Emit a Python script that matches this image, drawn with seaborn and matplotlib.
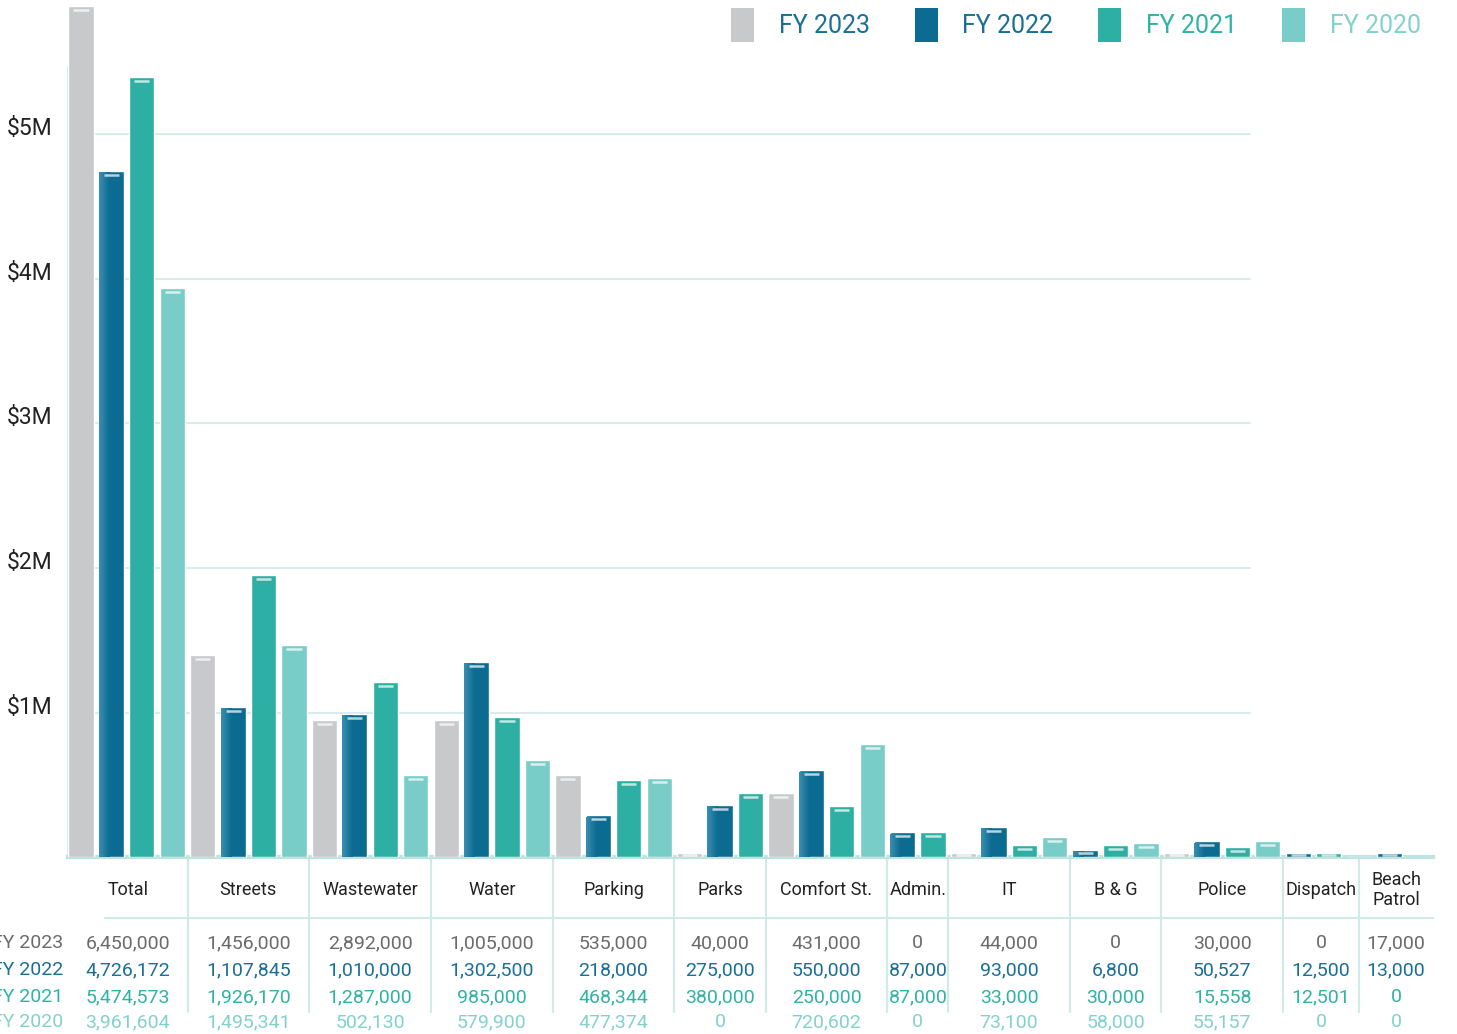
import numpy as np
import pandas as pd
import matplotlib.pyplot as plt
import matplotlib.transforms as mtransforms
from matplotlib.patches import Patch
from matplotlib.colors import LinearSegmentedColormap, to_rgb
import seaborn as sns

sns.set_style('white')
plt.rcParams['font.family'] = ['Roboto', 'DejaVu Sans']

categories = ['Total', 'Streets', 'Wastewater', 'Water', 'Parking', 'Parks', 'Comfort St.',
              'Admin.', 'IT', 'B & G', 'Police', 'Dispatch', 'Beach\nPatrol']
years = ['FY 2023', 'FY 2022', 'FY 2021', 'FY 2020']

# values printed in the table
fy2023 = [6450000, 1456000, 2892000, 1005000, 535000, 40000, 431000, 0, 44000, 0, 30000, 0, 17000]
fy2022 = [4726172, 1107845, 1010000, 1302500, 218000, 275000, 550000, 87000, 93000, 6800, 50527, 12500, 13000]
fy2021 = [5474573, 1926170, 1287000, 985000, 468344, 380000, 250000, 87000, 33000, 30000, 15558, 12501, 0]
fy2020 = [3961604, 1495341, 502130, 579900, 477374, 0, 720602, 0, 73100, 58000, 55157, 0, 0]

# bar heights as drawn in the chart ($M)
bar23 = [5.89, 1.40, 0.95, 0.95, 0.57, 0.03, 0.44, 0, 0.03, 0, 0.03, 0, 0]
bar22 = [4.75, 1.04, 0.99, 1.35, 0.29, 0.36, 0.60, 0.17, 0.21, 0.05, 0.11, 0.03, 0.03]
bar21 = [5.40, 1.95, 1.21, 0.97, 0.53, 0.44, 0.35, 0.17, 0.08, 0.08, 0.07, 0.03, 0]
bar20 = [3.94, 1.47, 0.57, 0.67, 0.55, 0, 0.78, 0, 0.14, 0.10, 0.11, 0, 0]

y_ticks = [1, 2, 3, 4, 5]
y_labels = ['$1M', '$2M', '$3M', '$4M', '$5M']

colors = ['#c8c9cb', '#0b6b91', '#2db0a3', '#78cdc8']
text_colors = ['#6b6b6b', '#1a6f95', '#2fb3a5', '#82d2cc']
legend_colors = ['#1a6f95', '#1a6f95', '#2fb3a5', '#82d2cc']
line_col = '#cfeae7'

table = [fy2023, fy2022, fy2021, fy2020]
bars = [bar23, bar22, bar21, bar20]

# one slot per non-zero table entry, bars packed one after the other
rows = []
slot = 0
for ci, cat in enumerate(categories):
    for yi, yr in enumerate(years):
        if table[yi][ci] != 0:
            rows.append({'slot': slot, 'year': yr, 'cat': ci, 'value': bars[yi][ci] * 1e6})
            slot += 1
df = pd.DataFrame(rows)

W, H = 1457, 1034
fig = plt.figure(figsize=(W / 100, H / 100), dpi=100)
ax = fig.add_axes([68 / W, 177 / H, 1365 / W, 857 / H])

sns.barplot(data=df, x='slot', y='value', hue='year', hue_order=years, palette=colors,
            dodge=False, native_scale=True, width=0.83, saturation=1, legend=False, ax=ax, zorder=3)

pitch = 30.43
xlim = (-13 / pitch, (1433 - 81) / pitch)
ytop = 857 / 144.5 * 1e6

# lighter left edge on the dark blue bars, small highlight on every bar
grad = LinearSegmentedColormap.from_list('g', ['#3a8fb0', colors[1]])
dpx = ytop / 857
for p in list(ax.patches):
    h = p.get_height()
    if h <= 0:
        continue
    x0 = p.get_x()
    w = p.get_width()
    if np.allclose(p.get_facecolor()[:3], to_rgb(colors[1]), atol=0.01) and h > 6 * dpx:
        ax.imshow(np.linspace(0, 1, 32).reshape(1, -1), cmap=grad, aspect='auto',
                  extent=[x0, x0 + w * 0.4, 0, h - 2 * dpx], zorder=3.5, interpolation='bicubic')
    yy = h - min(4 * dpx, h / 2)
    ax.plot([x0 + 0.2 * w, x0 + 0.8 * w], [yy, yy], color='white', alpha=0.7, lw=1.8,
            solid_capstyle='butt', zorder=4)

ax.set_xlim(*xlim)
ax.set_ylim(0, ytop)
ax.set_xlabel('')
ax.set_ylabel('')
ax.set_xticks([])

# grid + y labels
for t in y_ticks:
    ax.axhline(t * 1e6, xmin=0, xmax=0.866, color=line_col, lw=1.2, zorder=1)
ax.set_yticks([t * 1e6 for t in y_ticks], y_labels)
ax.tick_params(axis='y', length=0, pad=11, labelsize=16.5, labelcolor='#222222')
off = mtransforms.ScaledTranslation(0, 0.08, fig.dpi_scale_trans)
for lbl in ax.get_yticklabels():
    lbl.set_transform(lbl.get_transform() + off)

for s in ['top', 'right']:
    ax.spines[s].set_visible(False)
ax.spines['left'].set_color(line_col)
ax.spines['left'].set_linewidth(2)
ax.spines['left'].set_bounds(0, 5.47e6)
ax.spines['bottom'].set_color('#bfe3df')
ax.spines['bottom'].set_linewidth(3)

# legend
handles = [Patch(facecolor=c, edgecolor='none') for c in colors]
leg = fig.legend(handles, years, loc='upper left', bbox_to_anchor=(731 / W, 1 - 8 / H),
                 ncol=4, frameon=False, fontsize=18, handlelength=0.92, handleheight=1.7,
                 handletextpad=1.0, columnspacing=1.78, borderpad=0, borderaxespad=0)
for t, c in zip(leg.get_texts(), legend_colors):
    t.set_color(c)

# table under the chart
vis = df[df['value'] > 0]
first = vis.groupby('cat')['slot'].min().values
last = vis.groupby('cat')['slot'].max().values
bounds = [(last[i] + first[i + 1]) / 2 for i in range(len(categories) - 1)]
edges = [xlim[0]] + bounds + [xlim[1]]
centers = [(edges[i] + edges[i + 1]) / 2 for i in range(len(categories))]

blend = mtransforms.blended_transform_factory(ax.transData, fig.transFigure)
for b in bounds:
    ax.plot([b, b], [1 - 858 / H, 1 - 1012 / H], color=line_col, lw=1.5,
            transform=blend, clip_on=False)
fig.add_artist(plt.Line2D([105 / W, 1433 / W], [1 - 918 / H, 1 - 918 / H],
                          color=line_col, lw=1.5))

for ci, cat in enumerate(categories):
    fig.text(centers[ci], 1 - 890 / H, cat, transform=blend, ha='center', va='center',
             fontsize=13, color='#222222', linespacing=1.1)

row_y = [943, 970, 997, 1022]
for yi, yr in enumerate(years):
    fig.text(63 / W, 1 - row_y[yi] / H, yr, ha='right', va='center', fontsize=14,
             color=text_colors[yi])
    for ci in range(len(categories)):
        fig.text(centers[ci], 1 - row_y[yi] / H, f'{table[yi][ci]:,}', transform=blend,
                 ha='center', va='center', fontsize=14, color=text_colors[yi])

plt.savefig('out.png', dpi=100)
